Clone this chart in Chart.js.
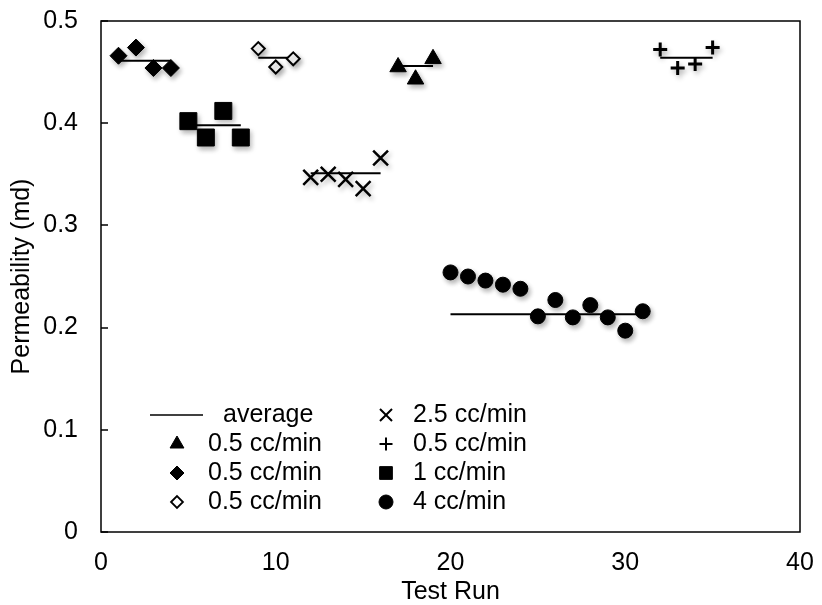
<!DOCTYPE html>
<html>
<head>
<meta charset="utf-8">
<script src="https://cdn.jsdelivr.net/npm/chart.js@4"></script>
<style>
  body { margin: 0; background: #fff; }
  #wrap { width: 822px; height: 605px; }
</style>
</head>
<body>
<div id="wrap"><canvas id="permChart"></canvas></div>
<script>
// Data (x = test run, y = permeability in md)
const diamondRuns = [1, 2, 3, 4];
const diamondPerm = [0.466, 0.474, 0.454, 0.454];
const squareRuns = [5, 6, 7, 8];
const squarePerm = [0.402, 0.386, 0.412, 0.386];
const openRuns = [9, 10, 11];
const openPerm = [0.473, 0.455, 0.463];
const crossRuns = [12, 13, 14, 15, 16];
const crossPerm = [0.347, 0.350, 0.345, 0.336, 0.366];
const triRuns = [17, 18, 19];
const triPerm = [0.455, 0.443, 0.463];
const circleRuns = [20, 21, 22, 23, 24, 25, 26, 27, 28, 29, 30, 31];
const circlePerm = [0.254, 0.250, 0.246, 0.242, 0.238, 0.211, 0.227, 0.210, 0.222, 0.210, 0.197, 0.216];
const plusRuns = [32, 33, 34, 35];
const plusPerm = [0.472, 0.454, 0.458, 0.474];

// average lines: start run, end run, value
const avgFrom = [1, 5, 9, 12, 17, 20, 32];
const avgTo = [4, 8, 11, 16, 19, 31, 35];
const avgPerm = [0.461, 0.398, 0.464, 0.351, 0.456, 0.213, 0.464];

const xTicks = [0, 10, 20, 30, 40];
const yTicks = [0, 0.1, 0.2, 0.3, 0.4, 0.5];

const font = "'Liberation Sans', Arial, sans-serif";
const fontSize = 25;

function pts(xs, ys) {
    return xs.map((x, i) => ({ x: x, y: ys[i] }));
}

function markers(label, xs, ys, style, radius, extra) {
    return Object.assign({
        type: 'scatter',
        label: label,
        data: pts(xs, ys),
        pointStyle: style,
        pointRadius: radius,
        pointHoverRadius: radius,
        backgroundColor: '#000',
        borderColor: '#000',
        borderWidth: 1,
        order: 0
    }, extra || {});
}

const datasets = [
    markers('0.5 cc/min', triRuns, triPerm, 'triangle', 9.5),
    markers('0.5 cc/min', diamondRuns, diamondPerm, 'rectRot', 8.5),
    markers('0.5 cc/min', openRuns, openPerm, 'rectRot', 6.5, { backgroundColor: '#fff', borderWidth: 2 }),
    markers('2.5 cc/min', crossRuns, crossPerm, 'crossRot', 10.5, { borderWidth: 2.5 }),
    markers('0.5 cc/min', plusRuns, plusPerm, 'cross', 7, { borderWidth: 3 }),
    markers('1 cc/min', squareRuns, squarePerm, 'rect', 12),
    markers('4 cc/min', circleRuns, circlePerm, 'circle', 7.5)
];

avgFrom.forEach((from, i) => {
    datasets.push({
        type: 'line',
        label: 'average',
        data: [{ x: from, y: avgPerm[i] }, { x: avgTo[i], y: avgPerm[i] }],
        borderColor: '#000',
        borderWidth: 2,
        pointRadius: 0,
        fill: false,
        order: 1
    });
});

// legend laid out like the original: two columns inside the plot
const legendLeft = [
    { ds: 7, text: 'average', line: true },
    { ds: 0, text: '0.5 cc/min' },
    { ds: 1, text: '0.5 cc/min' },
    { ds: 2, text: '0.5 cc/min' }
];
const legendRight = [
    { ds: 3, text: '2.5 cc/min' },
    { ds: 4, text: '0.5 cc/min' },
    { ds: 5, text: '1 cc/min' },
    { ds: 6, text: '4 cc/min' }
];
const legendRadius = { triangle: 8, rectRot: 7, crossRot: 8.5, cross: 6.5, rect: 9, circle: 7 };

// no label overhang padding: the plot box is set by layout.padding alone
function noOverhang(s) {
    s.paddingTop = 0;
    s.paddingBottom = 0;
    s.paddingLeft = 0;
    s.paddingRight = 0;
}

const framePlugin = {
    id: 'frame',
    beforeDatasetDraw(chart, args) {
        if (args.meta.type === 'scatter') {
            const ctx = chart.ctx;
            ctx.save();
            ctx.shadowColor = 'rgba(0,0,0,0.3)';
            ctx.shadowBlur = 5;
            ctx.shadowOffsetX = 2;
            ctx.shadowOffsetY = 3;
        }
    },
    afterDatasetDraw(chart, args) {
        if (args.meta.type === 'scatter') chart.ctx.restore();
    },
    afterDraw(chart) {
        const ctx = chart.ctx;
        const a = chart.chartArea;
        const y = chart.scales.y;
        ctx.save();
        ctx.strokeStyle = '#000';
        ctx.lineWidth = 1.5;
        ctx.strokeRect(a.left, a.top, a.right - a.left, a.bottom - a.top);
        // inward tick marks on the value axis
        ctx.beginPath();
        yTicks.forEach(v => {
            const py = Math.round(y.getPixelForValue(v));
            ctx.moveTo(a.left, py);
            ctx.lineTo(a.left + 7, py);
        });
        ctx.stroke();

        // legend
        ctx.font = fontSize + 'px ' + font;
        ctx.fillStyle = '#000';
        ctx.textBaseline = 'middle';
        const rowY = [415, 444, 473, 502];
        const drawCol = (items, symX, textX) => {
            items.forEach((it, i) => {
                const d = chart.data.datasets[it.ds];
                const py = rowY[i];
                if (it.line) {
                    ctx.beginPath();
                    ctx.lineWidth = 1.5;
                    ctx.moveTo(symX - 27, py);
                    ctx.lineTo(symX + 26, py);
                    ctx.stroke();
                    ctx.fillText(it.text, textX + 15, py);
                    return;
                }
                const open = d.backgroundColor === '#fff';
                ctx.fillStyle = d.backgroundColor;
                ctx.strokeStyle = d.borderColor;
                ctx.lineWidth = open ? 1.8 : (d.pointStyle.startsWith('cross') ? 2 : 1);
                Chart.helpers.drawPoint(ctx, {
                    pointStyle: d.pointStyle,
                    radius: legendRadius[d.pointStyle] * (open ? 0.85 : 1),
                    rotation: 0,
                    borderWidth: ctx.lineWidth
                }, symX, py);
                ctx.fillStyle = '#000';
                ctx.strokeStyle = '#000';
                ctx.fillText(it.text, textX, py);
            });
        };
        drawCol(legendLeft, 177, 208);
        drawCol(legendRight, 386, 413);
        ctx.restore();
    }
};

new Chart(document.getElementById('permChart'), {
    type: 'scatter',
    data: { datasets: datasets },
    options: {
        responsive: true,
        maintainAspectRatio: false,
        animation: false,
        events: [],
        layout: { padding: { top: 21, right: 22, left: 0, bottom: 0 } },
        plugins: {
            legend: { display: false },
            tooltip: { enabled: false }
        },
        scales: {
            x: {
                type: 'linear',
                min: 0,
                max: 40,
                afterBuildTicks: s => { s.ticks = xTicks.map(v => ({ value: v })); },
                afterFit: s => { s.height = 73; noOverhang(s); },
                grid: { display: false, drawTicks: false },
                border: { display: false },
                ticks: { font: { family: font, size: fontSize }, color: '#000', padding: 16 },
                title: {
                    display: true,
                    text: 'Test Run',
                    font: { family: font, size: fontSize, lineHeight: 1.05 },
                    color: '#000',
                    padding: { top: 0, bottom: 0 }
                }
            },
            y: {
                type: 'linear',
                min: 0,
                max: 0.5,
                afterBuildTicks: s => { s.ticks = yTicks.map(v => ({ value: v })); },
                afterFit: s => { s.width = 101; noOverhang(s); },
                grid: { display: false, drawTicks: false },
                border: { display: false },
                ticks: {
                    font: { family: font, size: fontSize },
                    color: '#000',
                    padding: 23,
                    callback: v => String(v)
                },
                title: {
                    display: true,
                    text: 'Permeability (md)',
                    font: { family: font, size: fontSize },
                    color: '#000',
                    padding: { top: 7, bottom: 0 }
                }
            }
        }
    },
    plugins: [framePlugin]
});
</script>
</body>
</html>
